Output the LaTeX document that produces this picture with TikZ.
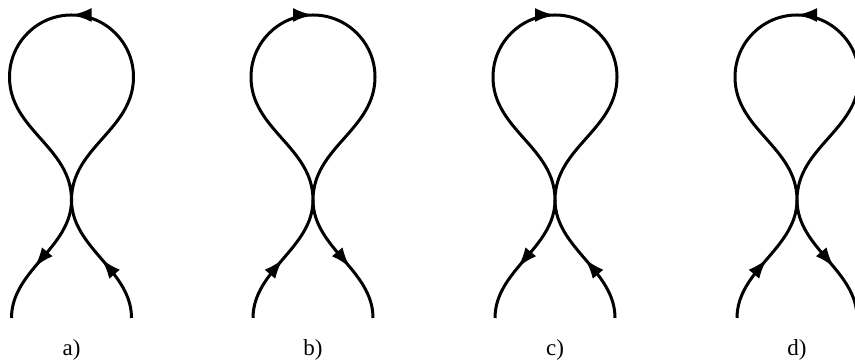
\documentclass[tikz,border=0pt]{standalone}
\usepackage{fontspec}
\setmainfont{Liberation Serif}
\usetikzlibrary{arrows.meta,decorations.markings}

\begin{document}
\begin{tikzpicture}[
    x=0.5pt, y=0.5pt,
    curve/.style={line width=1.5pt},
    fwd/.style={postaction={decorate, decoration={markings,
        mark=at position #1 with {\arrow{Latex[length=10pt,width=7pt]}}}}},
    bwd/.style={postaction={decorate, decoration={markings,
        mark=at position #1 with {\arrowreversed{Latex[length=10pt,width=7pt]}}}}},
    lab/.style={font=\fontsize{11.5}{14}\selectfont}
]

\useasboundingbox (0,0) rectangle (855,362);
\clip (0,0) rectangle (855,362);

% figure a)
\begin{scope}[shift={(71.5,0)}]
  \draw[curve, bwd=0.42] (-60,44) .. controls (-60,92) and (0,114) .. (0,162);
  \draw[curve, fwd=0.5]  (60,44) .. controls (60,92) and (0,114) .. (0,162);
  \draw[curve, bwd=0.5]  (0,162) .. controls (0,215) and (-62,232) .. (-62,285)
      arc[start angle=180, end angle=0, radius=62]
      .. controls (62,232) and (0,215) .. (0,162);
  \node[lab] (la) at (0,12) {a)};
\end{scope}

% figure b)
\begin{scope}[shift={(313,0)}]
  \draw[curve, fwd=0.5]  (-60,44) .. controls (-60,92) and (0,114) .. (0,162);
  \draw[curve, bwd=0.42] (60,44) .. controls (60,92) and (0,114) .. (0,162);
  \draw[curve, fwd=0.5]  (0,162) .. controls (0,215) and (-62,232) .. (-62,285)
      arc[start angle=180, end angle=0, radius=62]
      .. controls (62,232) and (0,215) .. (0,162);
  \node[lab] (lb) at (0,12) {b)};
\end{scope}

% figure c)
\begin{scope}[shift={(555,0)}]
  \draw[curve, bwd=0.42] (-60,44) .. controls (-60,92) and (0,114) .. (0,162);
  \draw[curve, fwd=0.5]  (60,44) .. controls (60,92) and (0,114) .. (0,162);
  \draw[curve, fwd=0.5]  (0,162) .. controls (0,215) and (-62,232) .. (-62,285)
      arc[start angle=180, end angle=0, radius=62]
      .. controls (62,232) and (0,215) .. (0,162);
  \node[lab] (lc) at (0,12) {c)};
\end{scope}

% figure d)
\begin{scope}[shift={(797,0)}]
  \draw[curve, fwd=0.5]  (-60,44) .. controls (-60,92) and (0,114) .. (0,162);
  \draw[curve, bwd=0.42] (60,44) .. controls (60,92) and (0,114) .. (0,162);
  \draw[curve, bwd=0.5]  (0,162) .. controls (0,215) and (-62,232) .. (-62,285)
      arc[start angle=180, end angle=0, radius=62]
      .. controls (62,232) and (0,215) .. (0,162);
  \node[lab] (ld) at (0,12) {d)};
\end{scope}

\end{tikzpicture}
\end{document}
